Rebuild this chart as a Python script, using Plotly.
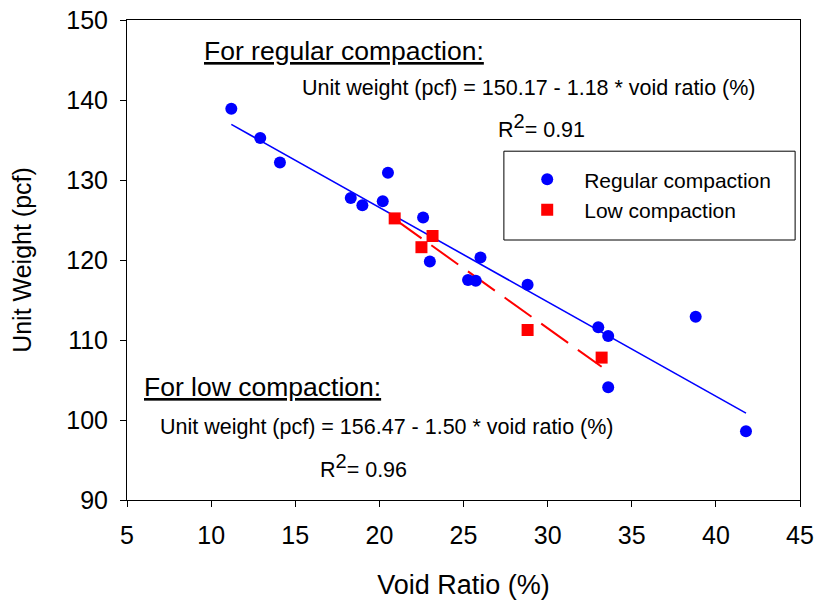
import plotly.graph_objects as go

# ---- data ----
reg_void = [11.20, 12.92, 14.09, 18.30, 18.99, 20.20, 20.51, 22.60, 23.00,
            25.27, 25.73, 26.01, 28.81, 33.01, 33.60, 33.60, 38.80, 41.79]
reg_unit = [138.9, 135.25, 132.2, 127.75, 126.84, 127.34, 130.9, 125.3, 119.8,
            117.5, 117.4, 120.3, 116.9, 111.6, 110.5, 104.1, 112.9, 98.6]

low_void = [20.91, 22.50, 23.16, 28.81, 33.21]
low_unit = [125.2, 121.6, 123.0, 111.25, 107.8]

reg_fit = (150.17, -1.18)   # intercept, slope
low_fit = (156.47, -1.50)

x_ticks = [5, 10, 15, 20, 25, 30, 35, 40, 45]
y_ticks = [90, 100, 110, 120, 130, 140, 150]

FONT = "Liberation Sans, Arial, Helvetica, sans-serif"

def fit_line(xs, fit):
    x0, x1 = min(xs), max(xs)
    return [x0, x1], [fit[0] + fit[1] * x0, fit[0] + fit[1] * x1]

fig = go.Figure()

rx, ry = fit_line(reg_void, reg_fit)
lx, ly = fit_line(low_void, low_fit)

fig.add_trace(go.Scatter(x=rx, y=ry, mode="lines", line=dict(color="#0000FF", width=1.6),
                         showlegend=False, hoverinfo="skip"))
fig.add_trace(go.Scatter(x=lx, y=ly, mode="lines",
                         line=dict(color="#FF0000", width=2, dash="33px,12px"),
                         showlegend=False, hoverinfo="skip"))
fig.add_trace(go.Scatter(x=reg_void, y=reg_unit, mode="markers", name="Regular compaction",
                         marker=dict(symbol="circle", size=12, color="#0000FF")))
fig.add_trace(go.Scatter(x=low_void, y=low_unit, mode="markers", name="Low compaction",
                         marker=dict(symbol="square", size=12, color="#FF0000")))

# legend frame
fig.add_shape(type="rect", xref="x", yref="y", x0=27.40, x1=44.71, y0=122.5, y1=133.6,
              line=dict(color="black", width=1), fillcolor="white", layer="below")

ann_font = dict(family=FONT, size=21.5, color="black")
head_font = dict(family=FONT, size=26.5, color="black")
SUP2 = '<sup><span style="font-size:20px">2</span></sup>'
anns = [
    dict(x=9.43, y=146.1, text="<u>For regular compaction:</u>", font=head_font),
    dict(x=15.26, y=141.5, text="Unit weight (pcf) = 150.17 - 1.18 * void ratio (%)", font=ann_font),
    dict(x=26.96, y=136.7, text="R" + SUP2 + "= 0.91", font=ann_font),
    dict(x=5.92, y=104.1, text="<u>For low compaction:</u>", font=head_font),
    dict(x=6.87, y=99.1, text="Unit weight (pcf) = 156.47 - 1.50 * void ratio (%)", font=ann_font),
    dict(x=16.35, y=94.25, text="R" + SUP2 + "= 0.96", font=ann_font),
]
for a in anns:
    fig.add_annotation(xref="x", yref="y", xanchor="left", yanchor="middle",
                       showarrow=False, **a)

axis_common = dict(showline=True, linecolor="black", linewidth=1, mirror=True,
                   ticks="outside", ticklen=6, tickwidth=1, tickcolor="black",
                   showgrid=False, zeroline=False, automargin=False,
                   ticklabelstandoff=7,
                   tickfont=dict(family=FONT, size=25, color="black"))

fig.update_xaxes(range=[5, 45], tickvals=x_ticks, ticktext=[str(v) for v in x_ticks],
                 title=dict(text="Void Ratio (%)", font=dict(family=FONT, size=27, color="black"),
                            standoff=27),
                 **axis_common)
fig.update_yaxes(range=[90, 150], tickvals=y_ticks, ticktext=[str(v) for v in y_ticks],
                 title=dict(text="Unit Weight (pcf)", font=dict(family=FONT, size=25, color="black"),
                            standoff=27),
                 **axis_common)

fig.update_layout(
    width=817, height=606,
    margin=dict(l=127, r=17, t=20, b=106, autoexpand=False),
    plot_bgcolor="white", paper_bgcolor="white",
    font=dict(family=FONT, color="black"),
    legend=dict(x=0.5694, y=0.710, xanchor="left", yanchor="top",
                bgcolor="rgba(0,0,0,0)", borderwidth=0,
                font=dict(family=FONT, size=21, color="black"),
                itemwidth=64),
)

fig.write_html("out.html", config={"displayModeBar": False},
               post_script="document.body.style.margin='0px';document.body.style.overflow='hidden';")
